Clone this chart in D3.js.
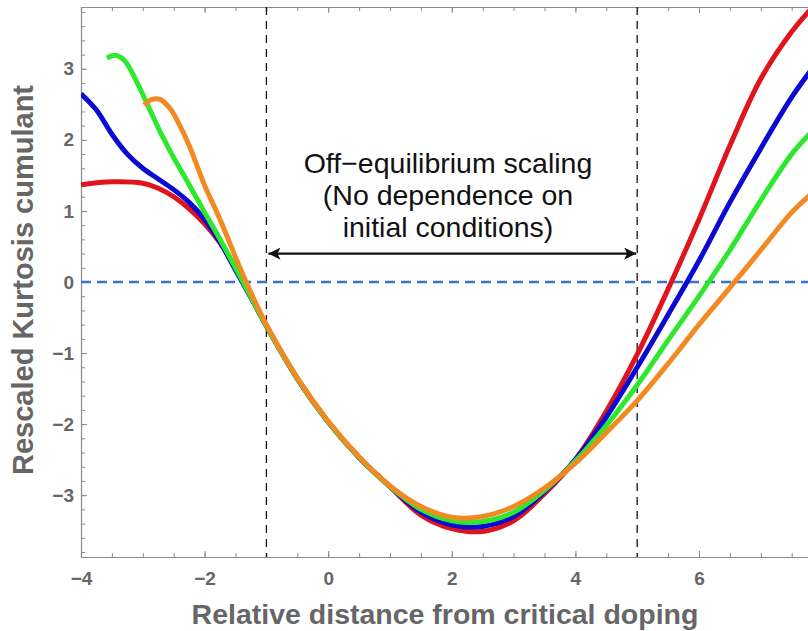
<!DOCTYPE html>
<html>
<head>
<meta charset="utf-8">
<script src="https://cdn.jsdelivr.net/npm/d3@7"></script>
<style>
  body { margin: 0; background: #fff; }
  text { font-family: "Liberation Sans", Arial, sans-serif; }
</style>
</head>
<body>
<div id="chart"></div>
<script>
// curve values, [x, y]
var redPts = [[-4,1.37],[-3.5,1.41],[-3.0,1.39],[-2.75,1.32],[-2.5,1.2],[-2.25,1.03],[-2.0,0.82],[-1.75,0.55],
  [-1.5,0.2],[-1.25,-0.21],[-1.0,-0.62],[-0.5,-1.36],[0,-1.97],[0.5,-2.47],[1.0,-2.88],[1.5,-3.28],[2.0,-3.47],
  [2.5,-3.51],[3.0,-3.36],[3.5,-2.98],[4.0,-2.5],[4.5,-1.82],[5.0,-1.02],[5.5,-0.1],[6.0,0.88],[6.5,1.92],
  [7.0,2.86],[7.5,3.52],[7.83,3.86]];
var bluePts = [[-4,2.65],[-3.75,2.42],[-3.5,2.08],[-3.25,1.8],[-3.0,1.6],[-2.75,1.45],[-2.5,1.3],[-2.25,1.12],
  [-2.0,0.88],[-1.75,0.56],[-1.5,0.17],[-1.25,-0.22],[-1.0,-0.62],[-0.5,-1.36],[0,-1.97],[0.5,-2.47],[1.0,-2.88],
  [1.5,-3.24],[2.0,-3.42],[2.5,-3.44],[3.0,-3.3],[3.5,-2.95],[4.0,-2.5],[4.5,-1.9],[5.0,-1.2],[5.5,-0.46],
  [6.0,0.3],[6.5,1.12],[7.0,1.88],[7.5,2.6],[7.83,3.0]];
var greenPts = [[-3.58,3.15],[-3.45,3.19],[-3.3,3.12],[-3.1,2.82],[-2.9,2.45],[-2.7,2.08],[-2.5,1.75],[-2.25,1.37],
  [-2.0,0.98],[-1.75,0.6],[-1.5,0.2],[-1.25,-0.21],[-1.0,-0.62],[-0.5,-1.36],[0,-1.97],[0.5,-2.47],[1.0,-2.88],
  [1.5,-3.2],[2.0,-3.36],[2.5,-3.37],[3.0,-3.24],[3.5,-2.93],[4.0,-2.52],[4.5,-2.02],[5.0,-1.45],[5.5,-0.82],
  [6.0,-0.2],[6.5,0.45],[7.0,1.15],[7.5,1.8],[7.83,2.12]];
var orangePts = [[-2.98,2.49],[-2.85,2.57],[-2.72,2.57],[-2.55,2.43],[-2.4,2.2],[-2.25,1.92],[-2.0,1.36],
  [-1.75,0.88],[-1.5,0.35],[-1.25,-0.15],[-1.0,-0.6],[-0.5,-1.35],[0,-1.96],[0.5,-2.46],[1.0,-2.87],[1.5,-3.16],
  [2.0,-3.31],[2.5,-3.3],[3.0,-3.16],[3.5,-2.9],[4.0,-2.55],[4.5,-2.12],[5.0,-1.67],[5.5,-1.15],[6.0,-0.6],
  [6.5,-0.08],[7.0,0.45],[7.5,0.98],[7.83,1.25]];

var seriesNames = ["red", "blue", "green", "orange"];
var seriesColors = ["#e0141c", "#0a0ad2", "#2ee82e", "#f28a22"];
var seriesData = [redPts, bluePts, greenPts, orangePts];

var xTicks = [-4, -2, 0, 2, 4, 6];
var yTicks = [-3, -2, -1, 0, 1, 2, 3];
var markerX = [-1, 5];   // dashed vertical lines
var annotation = ["Off\u2212equilibrium scaling", "(No dependence on", "initial conditions)"];
var xTitle = "Relative distance from critical doping";
var yTitle = "Rescaled Kurtosis cumulant";

var W = 808, H = 631;
// frame edges (window.top is reserved, so prefixed names)
var fLeft = 81, fTop = 7, fBottom = 557, fRight = 81 + 12 * 61.8;

var svg = d3.select("#chart").append("svg")
  .attr("width", W).attr("height", H);

var x = d3.scaleLinear().domain([-4, 8]).range([fLeft, fRight]);
var y = d3.scaleLinear().domain([-3.87, 3.87]).range([fBottom, fTop]);

var fmt = function(d) { return d < 0 ? "\u2212" + Math.abs(d) : "" + d; };
var axisCol = "#8a8a8a", labCol = "#666";

// minor ticks
var xMinor = d3.range(-4, 8.01, 0.5);
var yMinor = d3.range(-3.8, 3.81, 0.2);

function styleAxis(g) {
  g.selectAll("path").attr("stroke", axisCol).attr("stroke-width", 1.2);
  g.selectAll("line").attr("stroke", axisCol);
  g.selectAll("text").attr("fill", labCol).style("font-weight", "bold").style("font-size", "19px");
}

svg.append("g").attr("transform", "translate(0," + fBottom + ")")
  .call(d3.axisBottom(x).tickValues(xMinor).tickSize(-4).tickFormat(""))
  .call(styleAxis);
svg.append("g").attr("transform", "translate(0," + fBottom + ")")
  .call(d3.axisBottom(x).tickValues(xTicks).tickSize(-6).tickPadding(15).tickFormat(fmt))
  .call(styleAxis)
  .call(function(g) { g.select("path").remove(); });

svg.append("g").attr("transform", "translate(0," + fTop + ")")
  .call(d3.axisTop(x).tickValues(xMinor).tickSize(-4).tickFormat(""))
  .call(styleAxis);
svg.append("g").attr("transform", "translate(0," + fTop + ")")
  .call(d3.axisTop(x).tickValues(xTicks).tickSize(-6).tickFormat(""))
  .call(styleAxis)
  .call(function(g) { g.select("path").remove(); });

svg.append("g").attr("transform", "translate(" + fLeft + ",0)")
  .call(d3.axisLeft(y).tickValues(yMinor).tickSize(-4).tickFormat(""))
  .call(styleAxis);
svg.append("g").attr("transform", "translate(" + fLeft + ",0)")
  .call(d3.axisLeft(y).tickValues(yTicks).tickSize(-6).tickPadding(7).tickFormat(fmt))
  .call(styleAxis)
  .call(function(g) { g.select("path").remove(); });

// clip to the frame
svg.append("clipPath").attr("id", "clip")
  .append("rect").attr("x", fLeft).attr("y", fTop).attr("width", fRight - fLeft).attr("height", fBottom - fTop);

var plot = svg.append("g").attr("clip-path", "url(#clip)");

// zero line
plot.append("line")
  .attr("x1", fLeft).attr("x2", fRight)
  .attr("y1", y(0)).attr("y2", y(0))
  .attr("stroke", "#3b6fd6").attr("stroke-width", 2.4)
  .attr("stroke-dasharray", "10,6");

// vertical dashed markers
plot.selectAll(".vmark").data(markerX).enter().append("line")
  .attr("x1", function(d) { return x(d); }).attr("x2", function(d) { return x(d); })
  .attr("y1", fTop).attr("y2", fBottom)
  .attr("stroke", "#111").attr("stroke-width", 1.3)
  .attr("stroke-dasharray", "8,6");

var line = d3.line()
  .x(function(d) { return x(d[0]); })
  .y(function(d) { return y(d[1]); })
  .curve(d3.curveCatmullRom.alpha(0.5));

plot.selectAll(".curve").data(seriesData).enter().append("path")
  .attr("class", "curve")
  .attr("fill", "none")
  .attr("stroke", function(d, i) { return seriesColors[i]; })
  .attr("stroke-width", 5)
  .attr("d", line);

// double arrow
var defs = svg.append("defs");
defs.append("marker").attr("id", "arr").attr("viewBox", "0 0 10 10")
  .attr("refX", 10).attr("refY", 5)
  .attr("markerWidth", 8).attr("markerHeight", 5.5)
  .attr("markerUnits", "strokeWidth")
  .attr("orient", "auto-start-reverse")
  .append("path").attr("d", "M0,0 L10,5 L0,10 L2.5,5 Z").attr("fill", "#111");

svg.append("line")
  .attr("x1", x(markerX[0]) + 2).attr("x2", x(markerX[1]) - 1)
  .attr("y1", y(0.4)).attr("y2", y(0.4))
  .attr("stroke", "#111").attr("stroke-width", 2.2)
  .attr("marker-start", "url(#arr)").attr("marker-end", "url(#arr)");

svg.selectAll(".ann").data(annotation).enter().append("text")
  .attr("x", 448)
  .attr("y", function(d, i) { return 173 + i * 32; })
  .attr("text-anchor", "middle")
  .style("font-size", "28.5px")
  .attr("fill", "#111")
  .text(function(d) { return d; });

svg.append("text")
  .attr("x", 445).attr("y", 624)
  .attr("text-anchor", "middle")
  .style("font-size", "28.5px").style("font-weight", "bold")
  .attr("fill", labCol)
  .text(xTitle);

svg.append("text")
  .attr("transform", "translate(33,280) rotate(-90)")
  .attr("text-anchor", "middle")
  .style("font-size", "29px").style("font-weight", "bold")
  .attr("fill", labCol)
  .text(yTitle);
</script>
</body>
</html>
